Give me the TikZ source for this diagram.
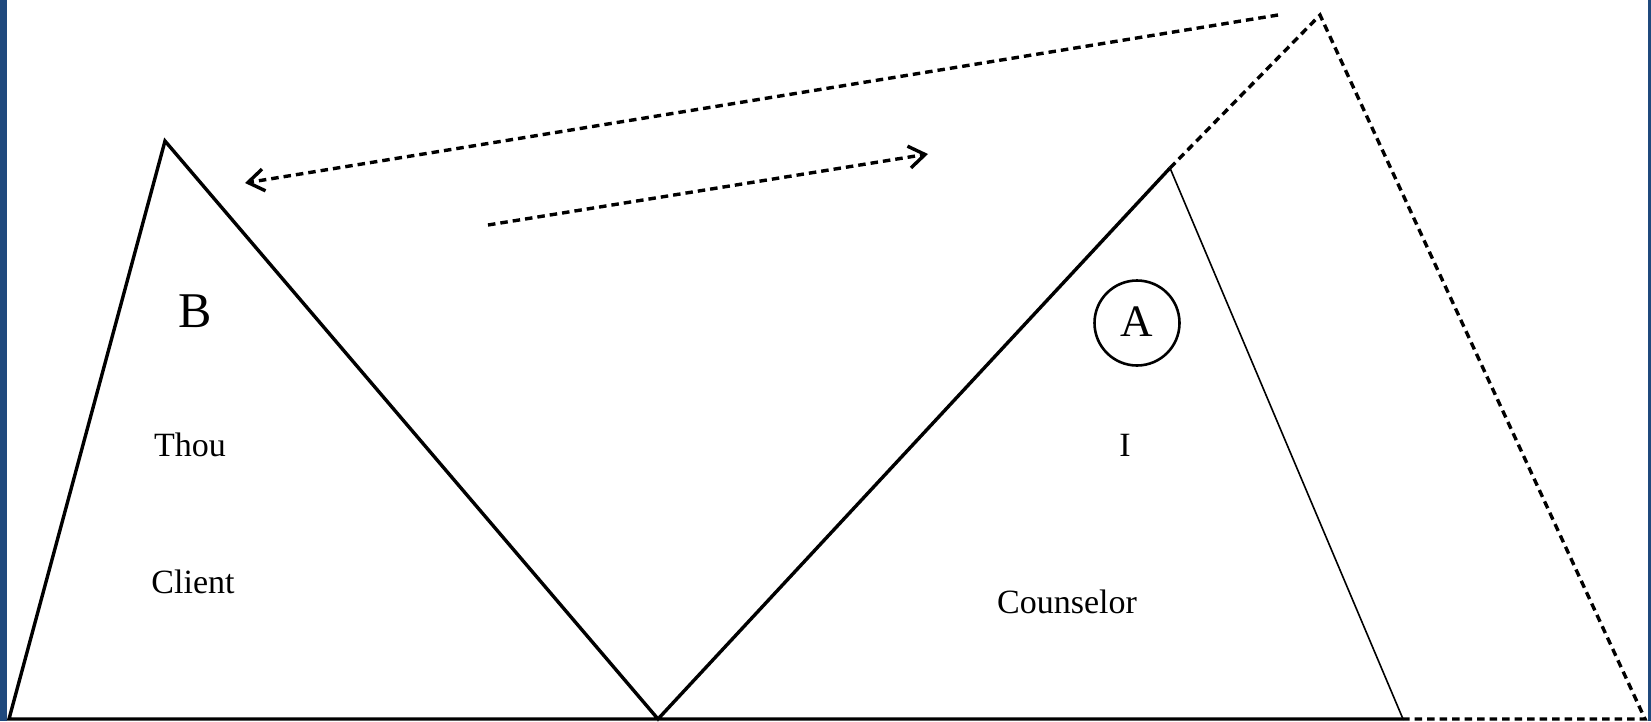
\documentclass[tikz,border=0pt]{standalone}
\usepackage{fontspec}
\setmainfont{Liberation Serif}
\usetikzlibrary{arrows.meta}
\definecolor{frameblue}{RGB}{31,73,125}
\begin{document}
\begin{tikzpicture}[x=1pt,y=-1pt,
  thickline/.style={line width=3.4pt, line join=miter},
  thinline/.style={line width=1.6pt},
  dashline/.style={line width=3.4pt, dash pattern=on 7.5pt off 5pt},
  barb/.style={-{Straight Barb[length=16pt,width=22pt,line width=3.4pt]}},
  lbl/.style={font=\fontsize{34}{40}\selectfont, inner sep=0pt, anchor=center}]
\useasboundingbox (0,0) rectangle (1651,721);
\fill[white] (0,0) rectangle (1651,721);
\fill[frameblue] (0,0) rectangle (7,721);
\fill[frameblue] (1648,0) rectangle (1651,721);
% coordinates
\coordinate (bl) at (9,719);
\coordinate (bt) at (165,141);
\coordinate (v) at (658,719);
\coordinate (at) at (1170,168);
\coordinate (ab) at (1403,719);
\coordinate (dt) at (1320,15);
\coordinate (db) at (1645,719);
\coordinate (l1s) at (1278,15);
\coordinate (l1e) at (245,183);
\coordinate (l2s) at (488,225);
\coordinate (l2e) at (928,154);
% solid lines
\draw[thickline] (ab) -- (bl) -- (bt) -- (v) -- (at);
\draw[thinline] (at) -- (ab);
% dashed triangle
\draw[dashline] (at) -- (dt) -- (db) -- (ab);
% arrows
\draw[dashline, barb] (l1s) -- (l1e);
\draw[dashline, barb] (l2s) -- (l2e);
% labels
\node[font=\fontsize{50}{56}\selectfont, inner sep=0pt] (B) at (195,311) {B};
\node[lbl] (thou) at (190,445) {Thou};
\node[lbl] (client) at (193,582) {Client};
\node[lbl] (I) at (1125,445) {I};
\node[lbl] (counselor) at (1067,602) {Counselor};
\node[circle, draw, line width=2.6pt, minimum size=85pt, inner sep=0pt] (Acirc) at (1137,323) {};
\node[font=\fontsize{45}{50}\selectfont, inner sep=0pt] (A) at (1137,322) {A};
\end{tikzpicture}
\end{document}
